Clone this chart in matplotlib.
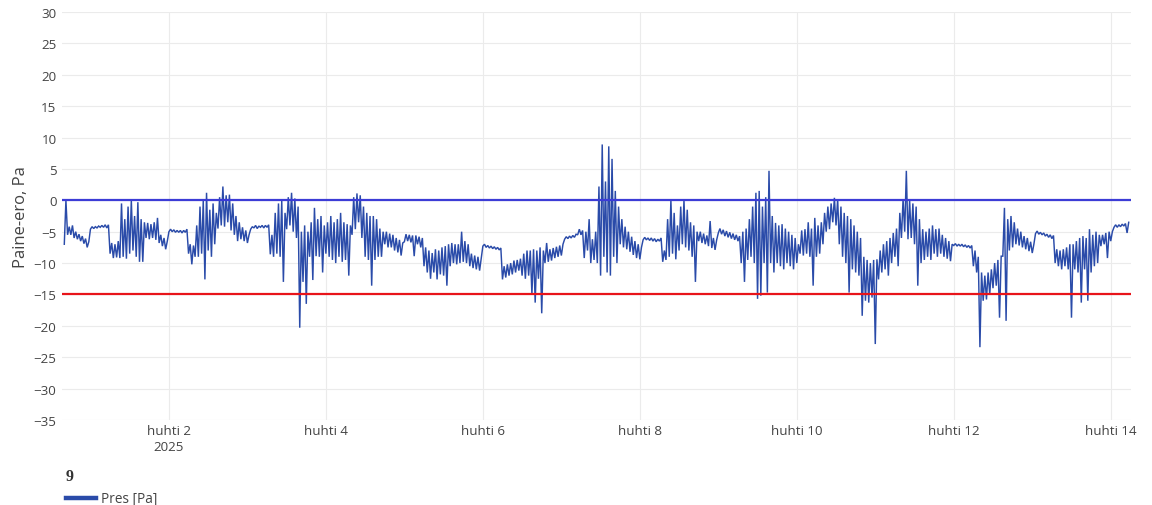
import numpy as np
import matplotlib
matplotlib.use("Agg")
import matplotlib.pyplot as plt
import matplotlib.dates as mdates
from matplotlib.lines import Line2D
from datetime import datetime, timedelta

# ---- data (hourly low / high readings of the pressure difference, Pa) ----
start_time = datetime(2025, 3, 31, 16, 0)

pres_low = [
    -7, -5.5, -5.5, -6.0, -6.2, -6.5, -6.9, -7.5, -4.6, -4.5,
    -4.4, -4.3, -4.3, -4.4, -8.5, -9.2, -9.1, -9.2, -9.0, -9.3,
    -8.5, -8.0, -9.0, -9.8, -9.8, -6.0, -6.2, -6.0, -6.3, -6.8,
    -7.3, -7.8, -5.0, -5.0, -5.1, -5.1, -5.2, -5.1, -8.5, -10.2,
    -9.0, -9.0, -8.5, -12.6, -8.0, -9.0, -7.0, -4.5, -4.0, -4.2,
    -3.5, -4.8, -5.5, -6.5, -6.2, -6.5, -6.8, -4.6, -4.4, -4.5,
    -4.3, -4.4, -4.3, -8.6, -9.0, -8.5, -9.0, -13.0, -4.6, -4.0,
    -5.0, -6.0, -20.3, -13.0, -16.5, -9.0, -12.7, -8.9, -9.0, -11.5,
    -8.5, -9.0, -9.5, -10.0, -9.0, -9.8, -9.5, -12.0, -5.5, -4.6,
    -3.5, -6.0, -9.0, -9.5, -13.6, -9.5, -9.0, -9.0, -7.0, -7.5,
    -7.5, -8.0, -8.3, -8.8, -6.6, -6.5, -6.7, -8.9, -7.0, -7.5,
    -10.5, -11.5, -12.5, -11.5, -12.6, -11.8, -12.0, -13.6, -10.5, -10.0,
    -10.2, -10.0, -9.8, -10.0, -10.5, -10.8, -11.0, -11.2, -7.3, -7.5,
    -7.6, -7.7, -7.8, -7.9, -12.6, -12.3, -12.0, -11.8, -11.5, -11.2,
    -12.0, -12.5, -12.0, -15.0, -16.3, -12.5, -18.0, -10.0, -9.8, -9.6,
    -9.2, -9.0, -8.8, -6.2, -6.1, -6.0, -5.9, -5.5, -5.5, -9.2,
    -8.0, -10.0, -9.5, -10.0, -12.0, -9.0, -11.5, -12.0, -9.0, -10.0,
    -7.0, -7.5, -7.8, -8.2, -8.7, -9.2, -9.4, -6.3, -6.3, -6.4,
    -6.5, -6.6, -6.5, -9.8, -9.5, -9.0, -8.5, -9.4, -8.0, -7.0,
    -7.5, -8.0, -9.0, -13.0, -6.5, -6.8, -7.0, -7.3, -7.6, -7.9,
    -5.2, -5.4, -5.7, -5.9, -6.1, -6.3, -6.5, -10.0, -13.0, -9.5,
    -9.0, -10.0, -15.7, -15.2, -10.0, -14.7, -10.0, -11.5, -10.0, -10.5,
    -11.0, -10.0, -10.5, -11.0, -10.0, -8.5, -8.8, -8.5, -9.0, -13.6,
    -9.0, -8.5, -7.0, -5.0, -4.6, -3.5, -4.0, -7.0, -9.0, -10.0,
    -14.7, -11.0, -11.5, -12.0, -18.4, -16.0, -16.3, -15.5, -22.9, -12.6,
    -11.5, -11.0, -12.0, -10.0, -9.0, -10.5, -6.0, -5.0, -6.2, -6.0,
    -7.0, -13.6, -10.0, -9.5, -9.0, -9.5, -8.5, -9.0, -8.5, -9.0,
    -9.3, -9.7, -7.2, -7.3, -7.3, -7.4, -7.5, -7.6, -10.5, -11.5,
    -23.4, -16.0, -15.8, -15.0, -14.0, -13.6, -18.7, -8.9, -19.2, -8.0,
    -7.5, -7.0, -7.2, -7.5, -7.8, -8.1, -8.4, -5.3, -5.4, -5.5,
    -5.7, -5.9, -6.1, -10.0, -10.5, -11.0, -10.5, -11.0, -18.7, -11.0,
    -11.5, -16.3, -11.0, -16.0, -11.5, -10.5, -10.0, -7.3, -7.0, -9.2,
    -6.5, -4.3, -4.3, -4.2, -4.1, -5.2,
]

pres_high = [
    0, -4.2, -4.0, -5.0, -5.4, -5.7, -6.1, -6.6, -4.2, -4.2,
    -4.1, -4.0, -3.9, -3.9, -6.8, -7.0, -6.5, -0.5, -3.0, -1.0,
    0, -2.5, -0.3, -3.0, -3.5, -3.6, -3.8, -3.5, -2.8, -5.5,
    -6.0, -6.5, -4.6, -4.7, -4.8, -4.8, -4.8, -4.6, -7.0, -7.2,
    -4.0, -1.0, 0, 1.2, -1.5, -0.5, -2.0, 0.5, 2.2, 0.8,
    0.9, -0.5, -2.5, -3.5, -4.3, -4.8, -5.5, -4.2, -4.0, -4.1,
    -4.0, -4.0, -3.9, -5.5, -2.0, -0.5, -0.1, -2.0, 0.5, 1.2,
    0.3, -1.0, -5.0, -4.0, -5.0, -3.5, -1.2, -3.0, -2.5, -4.0,
    -3.5, -2.5, -3.5, -3.0, -2.0, -3.5, -3.8, -4.0, 0.5, 1.1,
    0.8, -1.0, -2.0, -2.5, -2.5, -3.0, -4.5, -5.0, -5.0, -5.3,
    -5.5, -6.0, -6.3, -6.8, -5.4, -5.5, -5.6, -5.6, -5.8, -6.0,
    -7.5, -8.0, -8.4, -7.8, -8.0, -7.5, -7.3, -7.0, -6.8, -7.0,
    -7.0, -5.0, -6.5, -7.0, -8.5, -8.8, -9.0, -9.2, -7.0, -7.2,
    -7.3, -7.4, -7.5, -7.6, -10.5, -10.2, -10.0, -9.6, -9.5, -9.3,
    -8.5, -8.0, -8.0, -7.8, -8.0, -7.5, -8.0, -6.8, -7.8, -7.6,
    -7.4, -7.2, -7.0, -5.8, -5.7, -5.6, -5.4, -4.6, -4.8, -5.0,
    -3.0, -6.2, -5.0, 2.2, 8.9, 3.0, 8.6, 6.6, 1.5, -1.0,
    -3.0, -4.2, -5.0, -5.8, -6.5, -7.0, -7.5, -5.9, -6.0, -6.0,
    -6.1, -6.2, -6.0, -8.0, -3.0, 0, -2.0, -4.0, -1.0, 0,
    -1.5, -3.5, -4.0, -5.0, -5.0, -5.3, -5.6, -3.3, -6.0, -6.3,
    -4.5, -4.7, -4.9, -5.1, -5.3, -5.5, -5.7, -5.0, -4.5, -3.0,
    -1.0, 1.2, 1.5, -1.0, 0.5, 4.7, -2.5, -3.6, -4.0, -3.8,
    -4.5, -5.0, -5.5, -6.0, -7.0, -4.8, -4.6, -3.5, -4.5, -2.8,
    -4.0, -3.5, -2.0, -1.0, -0.5, 0.4, 0.2, -1.0, -2.0, -2.5,
    -3.0, -4.0, -5.0, -6.0, -9.0, -9.5, -10.0, -9.5, -9.4, -8.0,
    -7.0, -6.5, -6.0, -5.2, -4.5, -2.0, 0.2, 4.7, 0, -0.5,
    -1.0, -3.0, -4.6, -5.0, -4.5, -4.0, -4.6, -4.5, -5.5, -6.0,
    -6.5, -7.0, -6.9, -7.0, -7.0, -7.1, -7.2, -7.2, -8.0, -9.0,
    -11.5, -12.0, -11.5, -11.0, -10.0, -9.5, -8.9, -1.2, -3.0, -2.5,
    -3.5, -4.5, -5.0, -5.7, -6.0, -6.6, -7.0, -4.9, -5.1, -5.2,
    -5.4, -5.5, -5.6, -7.8, -8.0, -7.8, -7.5, -7.0, -7.0, -6.5,
    -6.0, -5.7, -6.0, -4.6, -5.5, -5.0, -5.5, -5.5, -5.2, -5.0,
    -5.0, -3.9, -3.9, -3.8, -3.7, -3.5,
]

upper_limit = 0
lower_limit = -15

y_ticks = [-35, -30, -25, -20, -15, -10, -5, 0, 5, 10, 15, 20, 25, 30]
x_tick_days = [2, 4, 6, 8, 10, 12, 14]
x_tick_labels = ["huhti 2\n2025", "huhti 4", "huhti 6", "huhti 8",
                 "huhti 10", "huhti 12", "huhti 14"]

y_label = "Paine-ero, Pa"
legend_title = "9"
series_name = "Pres [Pa]"

# ---- build series: low and high reading placed within each hour ----
times, values = [], []
for i, (lo, hi) in enumerate(zip(pres_low, pres_high)):
    t0 = start_time + timedelta(hours=i)
    times.append(t0)
    values.append(lo)
    times.append(t0 + timedelta(minutes=30))
    values.append(hi)

# ---- figure ----
W, H = 1152, 506
fig = plt.figure(figsize=(W / 100, H / 100), dpi=100)
left, right, top, bottom = 62, 1131, 13, 421
ax = fig.add_axes([left / W, 1 - bottom / H, (right - left) / W, (bottom - top) / H])

line_color = "#2a4ba9"
ax.plot(times, values, color=line_color, lw=1.05, solid_joinstyle="miter", zorder=3)
ax.axhline(upper_limit, color="#3c3cd6", lw=1.6, zorder=4)
ax.axhline(lower_limit, color="#e8141a", lw=1.6, zorder=4)

ax.set_ylim(-35, 30)
ax.set_yticks(y_ticks)
ax.set_xlim(datetime(2025, 3, 31, 15, 18), datetime(2025, 4, 14, 6, 12))
ax.set_xticks([datetime(2025, 4, d) for d in x_tick_days])
ax.set_xticklabels(x_tick_labels)

font = "Open Sans"
for lab in ax.get_xticklabels() + ax.get_yticklabels():
    lab.set_fontfamily(font)
    lab.set_fontsize(9.6)
    lab.set_color("#444444")
for lab in ax.get_xticklabels():
    lab.set_linespacing(1.3)

ax.tick_params(axis="both", length=0)
ax.tick_params(axis="y", pad=4)
ax.tick_params(axis="x", pad=3)
ax.grid(True, color="#ebebeb", lw=0.8, zorder=0)
for s in ax.spines.values():
    s.set_visible(False)

ax.set_ylabel(y_label, fontfamily=font, fontsize=12, color="#444444", labelpad=3)

handle = Line2D([], [], color=line_color, lw=3.2)
leg = fig.legend([handle], [series_name], title=legend_title,
                 loc="upper left", bbox_to_anchor=(66 / W, 1 - 469 / H),
                 frameon=False, alignment="left", handlelength=2.2,
                 handletextpad=0.35, borderpad=0, borderaxespad=0,
                 labelspacing=0.55,
                 prop={"family": font, "size": 9.8},
                 title_fontproperties={"family": "Liberation Serif", "weight": "bold", "size": 11.5})
for t in leg.get_texts():
    t.set_color("#444444")
leg.get_title().set_color("#333333")

fig.savefig("out.png", dpi=100)
